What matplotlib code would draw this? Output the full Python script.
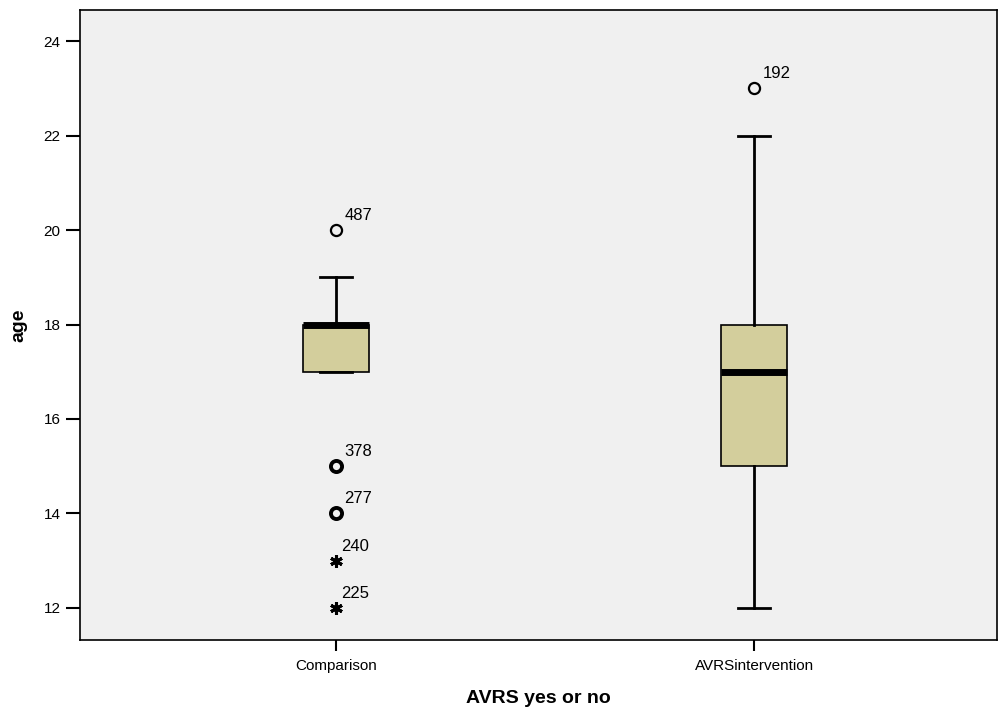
import matplotlib
matplotlib.use("Agg")
import matplotlib.pyplot as plt

plt.rcParams['font.family'] = ['Liberation Sans', 'DejaVu Sans']

categories = ["Comparison", "AVRSintervention"]
whislo = [17, 12]
q1 = [17, 15]
med = [18, 17]
q3 = [18, 18]
whishi = [19, 22]

outlier_vals = [[20, 15, 14], [23]]
outlier_ids = [["487", "378", "277"], ["192"]]
outlier_bold = [[False, True, True], [False]]
extreme_vals = [[13, 12], []]
extreme_ids = [["240", "225"], []]

yticks = [12, 14, 16, 18, 20, 22, 24]

fig = plt.figure(figsize=(10, 7.13), dpi=100)
ax = fig.add_axes([0.080, 0.1024, 0.917, 0.8836])
ax.set_facecolor("#F0F0F0")

positions = [1, 2]
stats = []
for i, c in enumerate(categories):
    stats.append(dict(label=c, whislo=whislo[i], q1=q1[i], med=med[i], q3=q3[i],
                      whishi=whishi[i], fliers=[]))

ax.bxp(stats, positions=positions, widths=0.158, patch_artist=True, showfliers=False,
       boxprops=dict(facecolor="#D3CE9C", edgecolor="black", linewidth=1.2),
       medianprops=dict(color="black", linewidth=5, solid_capstyle="butt"),
       whiskerprops=dict(color="black", linewidth=2),
       capprops=dict(color="black", linewidth=2),
       capwidths=0.077)

for i, p in enumerate(positions):
    for v, lab, b in zip(outlier_vals[i], outlier_ids[i], outlier_bold[i]):
        ax.plot([p], [v], marker="o", markersize=8, markerfacecolor="none",
                markeredgecolor="black", markeredgewidth=2.8 if b else 1.6, zorder=5)
        ax.annotate(lab, (p, v), xytext=(6, 5), textcoords="offset points",
                    fontsize=12, ha="left", va="bottom")
    for v, lab in zip(extreme_vals[i], extreme_ids[i]):
        ax.plot([p], [v], marker=(6, 2, 0), markersize=9, color="black",
                markeredgewidth=2.2, zorder=5)
        ax.annotate(lab, (p, v), xytext=(4, 5), textcoords="offset points",
                    fontsize=12, ha="left", va="bottom")

ax.set_xlim(0.388, 2.581)
ax.set_ylim(11.32, 24.66)
ax.set_yticks(yticks)
ax.set_yticklabels([str(t) for t in yticks], fontsize=11)
ax.set_xticks(positions)
ax.set_xticklabels(categories, fontsize=11)
ax.tick_params(axis="y", length=10, width=1.5, pad=4)
ax.tick_params(axis="x", length=8, width=1.5, pad=6)
for s in ax.spines.values():
    s.set_linewidth(1.2)
ax.set_ylabel("age", fontsize=14, fontweight="bold", labelpad=12)
ax.set_xlabel("AVRS yes or no", fontsize=14, fontweight="bold", labelpad=12)

fig.savefig("out.png", dpi=100)
